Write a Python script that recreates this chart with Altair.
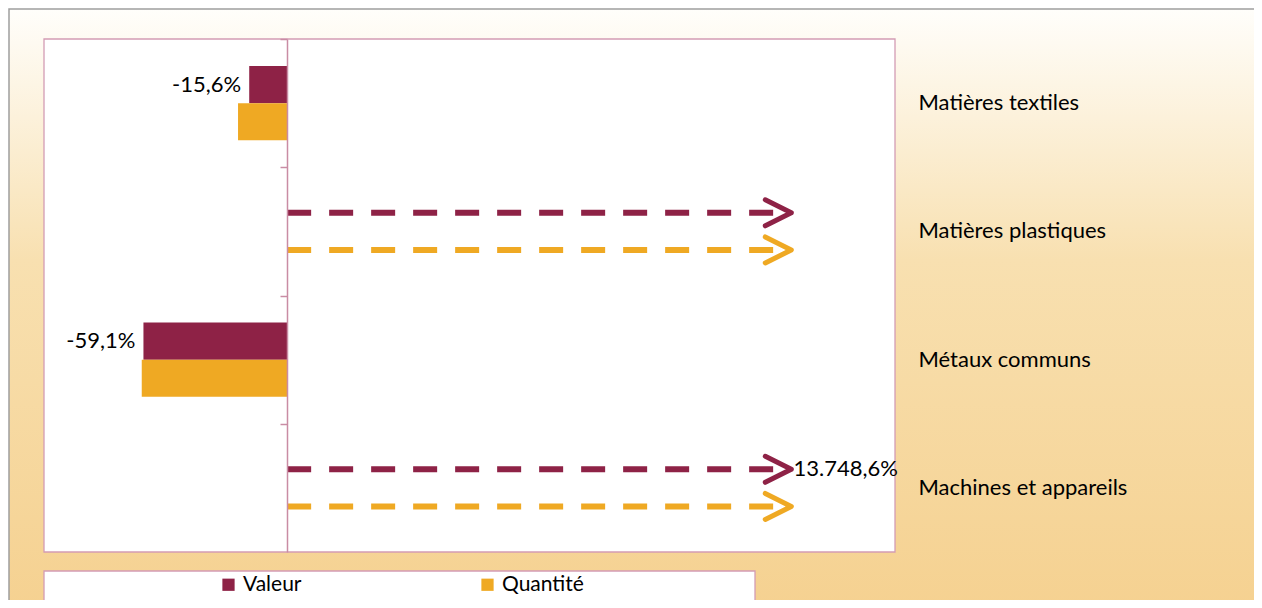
import altair as alt
import pandas as pd

categories = ["Matières textiles", "Matières plastiques", "Métaux communs", "Machines et appareils"]
series = ["Valeur", "Quantité"]
valeur = [-15.6, None, -59.1, 13748.6]
quantite = [-20.2, None, -59.8, None]
# off-scale values (drawn as dashed arrows)
hors_echelle_valeur = [False, True, False, True]
hors_echelle_quantite = [False, True, False, True]
labels_valeur = ["-15,6%", "", "-59,1%", "13.748,6%"]
labels_quantite = ["", "", "", ""]
colors = ["#8E2246", "#EFA923"]

X_MIN, X_MAX = -100, 250
CAP = 207      # arrow tip for off-scale values
HEAD = 202     # chevron centre

rows = []
for s, vals, over, labs in [("Valeur", valeur, hors_echelle_valeur, labels_valeur),
                            ("Quantité", quantite, hors_echelle_quantite, labels_quantite)]:
    for c, v, o, l in zip(categories, vals, over, labs):
        rows.append({"cat": c, "serie": s, "value": v, "over": o, "label": l,
                     "disp": CAP if o else v, "head": HEAD})
df = pd.DataFrame(rows)

W, H = 851, 513
FONT = "Lato"
FS = 22

color = alt.Color("serie:N", scale=alt.Scale(domain=series, range=colors),
                  legend=alt.Legend(title=None, orient="none", legendX=174, legendY=535,
                                    direction="horizontal", symbolType="square",
                                    symbolSize=150, symbolStrokeWidth=0,
                                    labelFont=FONT, labelFontSize=21, labelColor="#000000",
                                    labelOffset=4, columnPadding=175, padding=0))
color_nl = alt.Color("serie:N", scale=alt.Scale(domain=series, range=colors), legend=None)

xs = alt.Scale(domain=[X_MIN, X_MAX], nice=False, zero=False)
ys = alt.Scale(domain=categories, paddingInner=0.42, paddingOuter=0.21)
yoff = alt.YOffset("serie:N", sort=series, scale=alt.Scale(domain=series, paddingInner=0, paddingOuter=0))

bg = alt.Chart(pd.DataFrame({"a": [0]})).mark_rect(
    fill=alt.Gradient(gradient="linear", x1=0, x2=0, y1=0, y2=1,
                      stops=[alt.GradientStop(color="#FFFEFB", offset=0),
                             alt.GradientStop(color="#F8E0B0", offset=0.4),
                             alt.GradientStop(color="#F5D08E", offset=1)]),
    stroke="#9E9E9E", strokeWidth=1.5
).encode(x=alt.value(-35), x2=alt.value(1240), y=alt.value(-30), y2=alt.value(600))

plot_bg = alt.Chart(pd.DataFrame({"a": [0]})).mark_rect(
    fill="white", stroke="#D39CB4", strokeWidth=1.3
).encode(x=alt.value(0), x2=alt.value(W), y=alt.value(0), y2=alt.value(H))

legend_box = alt.Chart(pd.DataFrame({"a": [0]})).mark_rect(
    fill="white", stroke="#D39CB4", strokeWidth=1.3
).encode(x=alt.value(0), x2=alt.value(711), y=alt.value(532), y2=alt.value(565))

base = alt.Chart(df)

bars = base.transform_filter("!datum.over").mark_bar(stroke=None).encode(
    x=alt.X("value:Q", scale=xs, axis=None),
    y=alt.Y("cat:N", scale=ys, sort=categories,
            axis=alt.Axis(orient="left", offset=-243, title=None, labels=False,
                          domainColor="#C98CA4", domainWidth=1.5, tickColor="#C98CA4",
                          tickWidth=1.5, tickSize=7, tickOffset=-64, grid=False,
                          zindex=1)),
    yOffset=yoff,
    color=color,
)

rules = base.transform_filter("datum.over").transform_calculate(zero="0").mark_rule(
    strokeWidth=6, strokeDash=[24, 18]
).encode(
    x=alt.X("zero:Q", scale=xs, axis=None),
    x2="disp:Q",
    y=alt.Y("cat:N", scale=ys, sort=categories, axis=None),
    yOffset=yoff,
    color=color_nl,
)

heads = base.transform_filter("datum.over").mark_point(
    shape="M-1,-1L1,0L-1,1", filled=False, size=676, strokeWidth=5,
    strokeCap="round", strokeJoin="round", opacity=1
).encode(
    x=alt.X("head:Q", scale=xs, axis=None),
    y=alt.Y("cat:N", scale=ys, sort=categories, axis=None),
    yOffset=yoff,
    color=color_nl,
)

neg_text = base.transform_filter("!datum.over && datum.label != ''").mark_text(
    align="right", baseline="middle", dx=-8, font=FONT, fontSize=FS, color="#000000"
).encode(
    x=alt.X("disp:Q", scale=xs, axis=None),
    y=alt.Y("cat:N", scale=ys, sort=categories,
            axis=alt.Axis(orient="right", offset=23, title=None, domain=False, ticks=False,
                          labelFont=FONT, labelFontSize=FS, labelColor="#000000",
                          labelAlign="left", labelPadding=0, labelLimit=400, grid=False,
                          zindex=1)),
    yOffset=yoff,
    text="label:N",
)

pos_text = base.transform_filter("datum.over && datum.label != ''").mark_text(
    align="left", baseline="middle", dx=3, font=FONT, fontSize=FS, color="#000000"
).encode(
    x=alt.X("disp:Q", scale=xs, axis=None),
    y=alt.Y("cat:N", scale=ys, sort=categories, axis=None),
    yOffset=yoff,
    text="label:N",
)

chart = alt.layer(bg, plot_bg, legend_box, bars, rules, heads, neg_text, pos_text).resolve_axis(
    y="independent"
).properties(
    width=W, height=H,
    autosize=alt.AutoSizeParams(type="none"),
    padding={"left": 36, "top": 31, "right": 359, "bottom": 48},
).configure_view(stroke=None)

chart.save("out.html", embed_options={"renderer": "svg", "actions": False})
